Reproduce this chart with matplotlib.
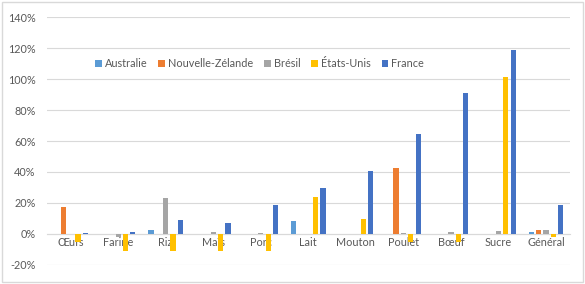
import numpy as np
import matplotlib.pyplot as plt
from matplotlib.patches import Rectangle
from matplotlib.ticker import FuncFormatter

categories = ['Œufs', 'Farine', 'Riz', 'Maïs', 'Porc', 'Lait', 'Mouton', 'Poulet', 'Bœuf', 'Sucre', 'Général']
series = ['Australie', 'Nouvelle-Zélande', 'Brésil', 'États-Unis', 'France']
australie = [0, 0, 2.5, 0, 0, 8.3, 0, 0, 0, 0, 1.5]
nouvelle_zelande = [17.4, 0, 0, 0, 0, 0, 0, 42.8, 0, 0, 2.5]
bresil = [0, -2, 23, 1, 0.5, 0, 0, 0.5, 1.2, 2, 2.5]
etats_unis = [-5, -11, -11, -11, -11, 24, 9.7, -5, -5, 101.5, -2]
france = [0.7, 1, 8.8, 7, 19, 29.5, 40.4, 64.5, 91, 118.5, 18.5]
colors = ['#5B9BD5', '#ED7D31', '#A5A5A5', '#FFC000', '#4472C4']

plt.rcParams['font.family'] = ['Lato', 'DejaVu Sans']
txt = '#595959'

fig = plt.figure(figsize=(5.85, 2.84), dpi=100)
fig.patches.append(Rectangle((0.004, 0.007), 0.992, 0.986, transform=fig.transFigure,
                             fill=False, edgecolor='#D9D9D9', linewidth=1))
ax = fig.add_axes([0.080, 0.067, 0.894, 0.873])

x = np.arange(len(categories))
slot = 0.155
bw = 0.11
data = [australie, nouvelle_zelande, bresil, etats_unis, france]
for i, (name, vals) in enumerate(zip(series, data)):
    ax.bar(x + (i - 2) * slot, vals, bw, color=colors[i], label=name, zorder=3)

ax.set_xlim(-0.5, len(categories) - 0.5)
ax.set_ylim(-20, 140)
ax.set_yticks(range(-20, 141, 20))
ax.yaxis.set_major_formatter(FuncFormatter(lambda v, p: f'{int(v)}%'))
ax.grid(axis='y', color='#D9D9D9', linewidth=0.8, zorder=0)
for s in ['top', 'right', 'left']:
    ax.spines[s].set_visible(False)
ax.spines['bottom'].set_position(('data', 0))
ax.spines['bottom'].set_color('#D9D9D9')
ax.spines['bottom'].set_linewidth(0.8)
ax.set_xticks(x)
ax.set_xticklabels(categories)
ax.tick_params(axis='both', length=0, labelsize=7.8, colors=txt)
ax.tick_params(axis='x', pad=2)
ax.tick_params(axis='y', pad=8)

leg = fig.legend(loc='center', bbox_to_anchor=(0.444, 0.775), ncol=5, frameon=False,
                 fontsize=7.8, handlelength=0.6, handleheight=0.6, handletextpad=0.3,
                 columnspacing=1.0)
for t in leg.get_texts():
    t.set_color(txt)

fig.savefig('out.png', dpi=100)
